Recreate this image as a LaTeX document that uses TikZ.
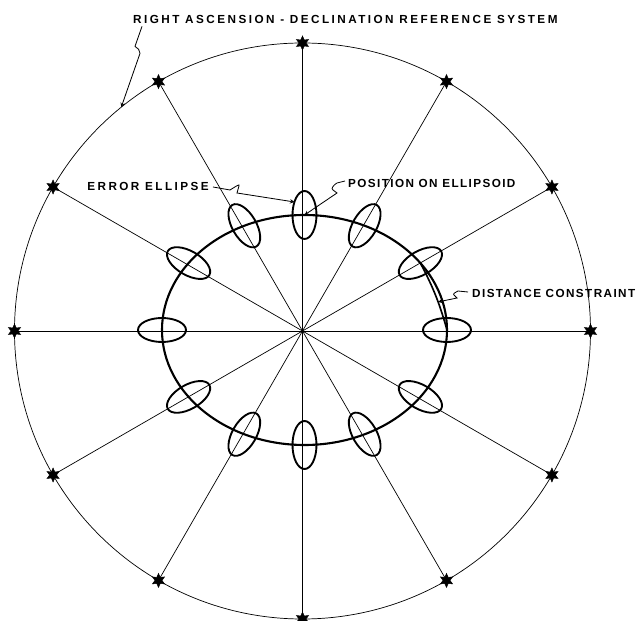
\documentclass[tikz,border=0pt]{standalone}
\usepackage{fontspec}
\setmainfont{Liberation Sans}
\newfontfamily\lettering{Liberation Sans}[LetterSpace=21]
\newfontfamily\letteringtight{Liberation Sans}[LetterSpace=12]
\usepackage{tikz}
\usetikzlibrary{shapes.geometric,calc}

\tikzset{
	refstar/.style={star, star points=6, star point ratio=2, fill, draw, inner sep=0pt, minimum size=4.2mm},
	spoke/.style={line width=0.6pt},
	errell/.style={line width=1.6pt},
	leader/.style={line width=0.7pt, ->},
	lbl/.style={font={\lettering\bfseries\fontsize{10}{11}\selectfont}, inner sep=0pt}
}

\begin{document}
\begin{tikzpicture}[x=0.03cm, y=0.03cm, >=stealth]
		\useasboundingbox (-302.5,-290) rectangle (337.5,331);
		% reference sphere
		\coordinate (o) at (0,0);
		\draw[spoke] (o) circle (288);
		% ellipsoid seen from above
		\coordinate (e) at (2,1);
		\draw[line width=1.8pt] (e) ellipse (142.5 and 115);
		% stars, spokes and error ellipses
		\foreach \i in {0,...,11} {
			\pgfmathsetmacro\ang{30*\i}
			\pgfmathsetmacro\rad{100*1.425*1.15/sqrt((1.15*cos(\ang))^2+(1.425*sin(\ang))^2)}
			\node[refstar] (s\i) at (\ang:288) {};
			\draw[spoke] (o) -- (s\i.center);
			\coordinate (p\i) at ($(e)+(\ang:\rad)$);
			\draw[errell, rotate around={\ang:(p\i)}] (p\i) ellipse (24 and 12);
		}
		% distance constraint
		\draw[line width=1.4pt] (p1) to[bend left=6] coordinate[pos=0.6] (dc) (p0);
		% labels
		\node[lbl, anchor=west] (title) at (-169.5,312) {RIGHT ASCENSION - DECLINATION REFERENCE SYSTEM};
		\node[lbl, anchor=east] (errlbl) at (-93.5,145) {ERROR ELLIPSE};
		\node[lbl, anchor=west, font={\letteringtight\bfseries\fontsize{10}{11}\selectfont}] (poslbl) at (45.5,148) {POSITION ON ELLIPSOID};
		\node[lbl, anchor=west, font={\letteringtight\bfseries\fontsize{10}{11}\selectfont}] (dclbl) at (169.5,38) {DISTANCE CONSTRAINT};
		% leaders
		\coordinate (rs) at (129:288);
		\draw[leader] ($(title.south west)+(9,-3)$) -- ++(-7,-20) to[out=-30,in=90] ++(5,-7) -- (rs);
		\draw[leader] ($(errlbl.east)+(4,-1)$) -- ++(17,-3) to[out=30,in=60] ++(9,4) -- ++(-2,-7) -- ($(p3)+(-10,13)$);
		\draw[leader] ($(poslbl.west)+(-3,2)$) -- ++(-8,-2) to[out=-150,in=150] ++(-4,-7) -- ++(4,-3) -- (p3);
		\draw[leader] ($(dclbl.west)+(-4,1)$) -- ++(-10,1) to[out=-150,in=150] ++(-4,-4) -- ++(3,-3) -- (dc);
	\end{tikzpicture}
\end{document}
